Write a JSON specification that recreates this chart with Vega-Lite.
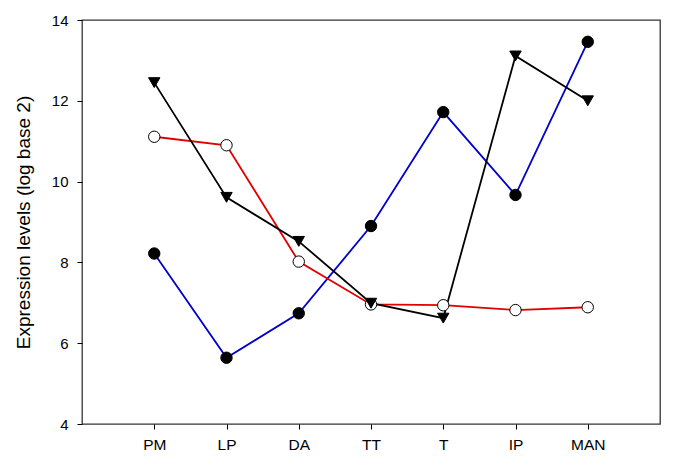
{
  "$schema": "https://vega.github.io/schema/vega-lite/v6.json",
  "width": 578,
  "height": 404,
  "autosize": {"type": "none"},
  "padding": {"left": 82, "top": 20, "right": 25, "bottom": 43},
  "background": "white",
  "config": {
    "view": {"stroke": "#333333", "strokeWidth": 1.3},
    "font": "Liberation Sans"
  },
  "data": {
    "values": [
      {"tissue": "PM", "series": "A", "value": 8.22},
      {"tissue": "LP", "series": "A", "value": 5.64},
      {"tissue": "DA", "series": "A", "value": 6.74},
      {"tissue": "TT", "series": "A", "value": 8.9},
      {"tissue": "T", "series": "A", "value": 11.72},
      {"tissue": "IP", "series": "A", "value": 9.67},
      {"tissue": "MAN", "series": "A", "value": 13.46},
      {"tissue": "PM", "series": "B", "value": 11.11},
      {"tissue": "LP", "series": "B", "value": 10.9},
      {"tissue": "DA", "series": "B", "value": 8.02},
      {"tissue": "TT", "series": "B", "value": 6.96},
      {"tissue": "T", "series": "B", "value": 6.94},
      {"tissue": "IP", "series": "B", "value": 6.82},
      {"tissue": "MAN", "series": "B", "value": 6.89},
      {"tissue": "PM", "series": "C", "value": 12.45},
      {"tissue": "LP", "series": "C", "value": 9.61},
      {"tissue": "DA", "series": "C", "value": 8.52},
      {"tissue": "TT", "series": "C", "value": 6.99},
      {"tissue": "T", "series": "C", "value": 6.62},
      {"tissue": "IP", "series": "C", "value": 13.11},
      {"tissue": "MAN", "series": "C", "value": 12.0}
    ]
  },
  "encoding": {
    "x": {
      "field": "tissue",
      "type": "nominal",
      "sort": ["PM", "LP", "DA", "TT", "T", "IP", "MAN"],
      "scale": {"type": "point", "padding": 1},
      "axis": {
        "title": null,
        "labelAngle": 0,
        "labelFontSize": 15.5,
        "labelColor": "black",
        "labelPadding": 8,
        "tickColor": "black",
        "tickSize": 5,
        "domain": false,
        "grid": false
      }
    },
    "y": {
      "field": "value",
      "type": "quantitative",
      "scale": {"domain": [4, 14], "nice": false, "zero": false},
      "axis": {
        "title": "Expression levels (log base 2)",
        "titleFontSize": 19,
        "titleFontWeight": "normal",
        "titleColor": "black",
        "titlePadding": 18,
        "values": [4, 6, 8, 10, 12, 14],
        "labelFontSize": 15,
        "labelColor": "black",
        "labelPadding": 9,
        "tickColor": "black",
        "tickSize": 5,
        "domain": false,
        "grid": false
      }
    }
  },
  "layer": [
    {
      "mark": {"type": "line", "strokeWidth": 1.8},
      "encoding": {
        "color": {
          "field": "series",
          "type": "nominal",
          "scale": {"domain": ["A", "B", "C"], "range": ["#0000cc", "#e00000", "#000000"]},
          "legend": null
        }
      }
    },
    {
      "mark": {"type": "point", "filled": true, "size": 130, "stroke": "black", "strokeWidth": 1, "opacity": 1},
      "encoding": {
        "shape": {
          "field": "series",
          "type": "nominal",
          "scale": {"domain": ["A", "B", "C"], "range": ["circle", "circle", "triangle-down"]},
          "legend": null
        },
        "fill": {
          "field": "series",
          "type": "nominal",
          "scale": {"domain": ["A", "B", "C"], "range": ["black", "white", "black"]},
          "legend": null
        }
      }
    }
  ]
}
